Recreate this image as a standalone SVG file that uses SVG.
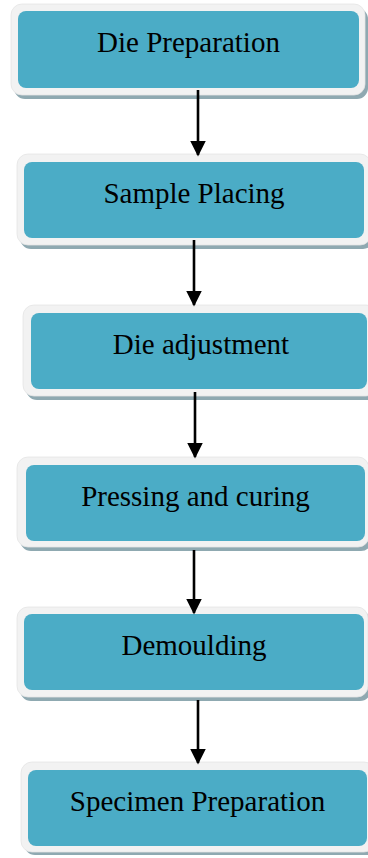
<svg xmlns="http://www.w3.org/2000/svg" width="368" height="858" viewBox="0 0 368 858">
<style>
.sh{fill:#8fa9b1}
.fr{fill:#f2f2f2;stroke:#e4e4e4;stroke-width:0.8}
.in{fill:#4bacc6}
.t{font-family:"Liberation Serif","Times New Roman",serif;font-size:29px;fill:#000;text-anchor:middle}
.c line{stroke:#000;stroke-width:2.6}
</style>
<defs>
<marker id="ah" markerWidth="6" markerHeight="6" refX="5.4" refY="3" orient="auto" markerUnits="strokeWidth">
<path d="M0,0 L6,3 L0,6 Z" fill="#000"/>
</marker>
</defs>
<rect width="368" height="858" fill="#fff"/>
<g id="n1">
<rect class="sh" x="14" y="8" width="354" height="91" rx="11"/>
<rect class="fr" x="11" y="4" width="354" height="91" rx="11"/>
<rect class="in" x="18" y="11" width="341" height="77" rx="8"/>
<text class="t" x="188.5" y="51.5">Die Preparation</text>
</g>
<g id="n2">
<rect class="sh" x="20" y="158" width="354" height="91" rx="11"/>
<rect class="fr" x="17" y="154" width="354" height="91" rx="11"/>
<rect class="in" x="24" y="162" width="340" height="76" rx="8"/>
<text class="t" x="194" y="202.5">Sample Placing</text>
</g>
<g id="n3">
<rect class="sh" x="26" y="309" width="354" height="91" rx="11"/>
<rect class="fr" x="23" y="305" width="354" height="91" rx="11"/>
<rect class="in" x="31" y="313" width="336" height="76" rx="8"/>
<text class="t" x="201" y="353.5">Die adjustment</text>
</g>
<g id="n4">
<rect class="sh" x="20" y="461" width="352" height="90" rx="11"/>
<rect class="fr" x="17" y="457" width="352" height="90" rx="11"/>
<rect class="in" x="26" y="465" width="339" height="76" rx="8"/>
<text class="t" x="195.5" y="505.5">Pressing and curing</text>
</g>
<g id="n5">
<rect class="sh" x="20" y="611" width="351" height="90" rx="11"/>
<rect class="fr" x="17" y="607" width="351" height="90" rx="11"/>
<rect class="in" x="24" y="614" width="340" height="76" rx="8"/>
<text class="t" x="194" y="654.5">Demoulding</text>
</g>
<g id="n6">
<rect class="sh" x="24" y="766" width="354" height="89" rx="11"/>
<rect class="fr" x="21" y="762" width="354" height="90" rx="11"/>
<rect class="in" x="28" y="770" width="339" height="76" rx="8"/>
<text class="t" x="197.5" y="810.5">Specimen Preparation</text>
</g>
<g class="c" id="connectors">
<line x1="198" y1="90" x2="198" y2="155" marker-end="url(#ah)"/>
<line x1="194" y1="240" x2="194" y2="305" marker-end="url(#ah)"/>
<line x1="195" y1="392" x2="195" y2="457" marker-end="url(#ah)"/>
<line x1="194" y1="550" x2="194" y2="613" marker-end="url(#ah)"/>
<line x1="198" y1="700" x2="198" y2="763" marker-end="url(#ah)"/>
</g>
</svg>
